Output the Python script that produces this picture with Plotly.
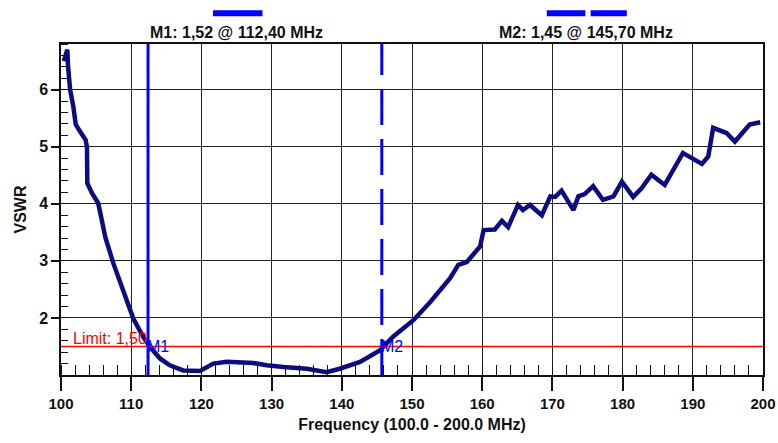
import plotly.graph_objects as go

# ---- data ----
freq_mhz = [100.4, 100.9, 101.0, 101.3, 101.75, 102.1, 102.7, 103.5, 103.7, 103.75,
            104.4, 105.3, 105.8, 106.3, 107.45, 108.9, 110.3, 111.7, 112.7, 114.1,
            115.5, 117.4, 119.8, 121.7, 123.6, 127.4, 129.3, 131.7, 135.0, 137.85,
            139.7, 142.6, 145.4, 147.3, 150.2, 152.6, 155.4, 156.6, 157.8, 159.7,
            160.2, 161.8, 162.8, 163.7, 165.1, 165.8, 166.8, 168.5, 169.7, 170.4,
            171.3, 173.0, 173.7, 174.6, 175.8, 177.2, 178.7, 179.9, 181.5, 182.7,
            184.1, 186.0, 188.6, 191.3, 192.2, 192.9, 194.8, 196.0, 197.2, 198.1, 199.6]
vswr = [6.5, 6.7, 6.41, 6.0, 5.71, 5.39, 5.27, 5.12, 5.0, 4.36,
        4.19, 4.01, 3.72, 3.42, 2.96, 2.45, 1.99, 1.67, 1.49, 1.29,
        1.17, 1.08, 1.07, 1.2, 1.23, 1.21, 1.17, 1.14, 1.11, 1.05,
        1.11, 1.23, 1.43, 1.67, 1.96, 2.28, 2.69, 2.93, 2.98, 3.25,
        3.54, 3.55, 3.70, 3.59, 3.98, 3.89, 3.98, 3.80, 4.13, 4.12,
        4.23, 3.89, 4.13, 4.17, 4.31, 4.07, 4.13, 4.39, 4.12, 4.27,
        4.51, 4.33, 4.89, 4.70, 4.83, 5.33, 5.24, 5.09, 5.27, 5.39, 5.43]

x_ticks = [100, 110, 120, 130, 140, 150, 160, 170, 180, 190, 200]
y_ticks = [2, 3, 4, 5, 6]

limit_value = 1.50
limit_label = "Limit: 1,50"
markers = ["M1", "M2"]
marker_freq = [112.4, 145.7]
marker_value = [1.52, 1.45]
marker_titles = ["M1: 1,52 @ 112,40 MHz", "M2: 1,45 @ 145,70 MHz"]

x_title = "Frequency (100.0 - 200.0 MHz)"
y_title = "VSWR"

# ---- figure ----
FONT = "Liberation Sans, Arial, sans-serif"
BLUE = "#0000ff"
NAVY = "#0c0c80"

fig = go.Figure()
fig.add_trace(go.Scatter(x=freq_mhz, y=vswr, mode="lines",
                         line=dict(color=NAVY, width=4.5), hoverinfo="skip",
                         showlegend=False))

shapes = []
shapes.append(dict(type="line", xref="x", yref="y", x0=100, x1=200,
                   y0=limit_value, y1=limit_value,
                   line=dict(color="#ff0000", width=1.5), layer="above"))
shapes.append(dict(type="line", xref="x", yref="paper", x0=marker_freq[0], x1=marker_freq[0],
                   y0=0, y1=1, line=dict(color=BLUE, width=3), layer="above"))
shapes.append(dict(type="line", xref="x", yref="paper", x0=marker_freq[1], x1=marker_freq[1],
                   y0=0, y1=1, line=dict(color=BLUE, width=3, dash="36px,14px"),
                   layer="above"))
shapes.append(dict(type="line", xref="paper", yref="paper", x0=0.2165, x1=0.287,
                   y0=1.093, y1=1.093, line=dict(color=BLUE, width=6)))
shapes.append(dict(type="line", xref="paper", yref="paper", x0=0.692, x1=0.747,
                   y0=1.093, y1=1.093, line=dict(color=BLUE, width=6)))
shapes.append(dict(type="line", xref="paper", yref="paper", x0=0.7545, x1=0.806,
                   y0=1.093, y1=1.093, line=dict(color=BLUE, width=6)))

annotations = []
annotations.append(dict(x=marker_freq[0], y=1.034, xref="x", yref="paper",
                        text="<b>" + marker_titles[0] + "</b>", showarrow=False,
                        xanchor="left", yanchor="middle",
                        font=dict(family=FONT, size=16, color="#111")))
annotations.append(dict(x=0.6212, y=1.034, xref="paper", yref="paper",
                        text="<b>" + marker_titles[1] + "</b>", showarrow=False,
                        xanchor="left", yanchor="middle",
                        font=dict(family=FONT, size=16, color="#111")))
for name, fx in zip(markers, marker_freq):
    annotations.append(dict(x=fx, y=limit_value, xref="x", yref="y", text=name,
                            showarrow=False, xanchor="left", yanchor="middle", xshift=-3,
                            font=dict(family=FONT, size=16, color=BLUE)))
annotations.append(dict(x=101.4, y=limit_value, xref="x", yref="y", text=limit_label,
                        showarrow=False, xanchor="left", yanchor="bottom", yshift=-3,
                        font=dict(family=FONT, size=16, color="#ff0000")))

fig.update_layout(
    width=778, height=443,
    margin=dict(l=61, r=15, t=44, b=68, autoexpand=False),
    paper_bgcolor="white", plot_bgcolor="white",
    shapes=shapes, annotations=annotations,
    showlegend=False,
    font=dict(family=FONT, color="#111"),
    xaxis=dict(range=[100, 200], tickvals=x_ticks,
               ticktext=["<b>%d</b>" % v for v in x_ticks], automargin=False,
               showgrid=True, gridcolor="#222", gridwidth=1,
               showline=True, linecolor="#111", linewidth=1.5, mirror=True,
               ticks="outside", ticklen=14, tickcolor="#111", tickwidth=1.5,
               tickfont=dict(family=FONT, size=15, color="#111"),
               minor=dict(dtick=2, tick0=100, ticks="inside", ticklen=10,
                          tickcolor="#111", tickwidth=1, showgrid=False),
               zeroline=False,
               title=dict(text="<b>" + x_title + "</b>", standoff=8,
                          font=dict(family=FONT, size=16, color="#111"))),
    yaxis=dict(range=[1, 6.8], tickvals=y_ticks,
               ticktext=["<b>%d</b>" % v for v in y_ticks], automargin=False,
               showgrid=True, gridcolor="#222", gridwidth=1,
               showline=True, linecolor="#111", linewidth=1.5, mirror=True,
               ticks="outside", ticklen=8, tickcolor="#111", tickwidth=1.5,
               tickfont=dict(family=FONT, size=16, color="#111"),
               minor=dict(dtick=0.2, tick0=1, ticks="inside", ticklen=7,
                          tickcolor="#111", tickwidth=1, showgrid=False),
               zeroline=False,
               title=dict(text="<b>" + y_title + "</b>", standoff=9,
                          font=dict(family=FONT, size=16, color="#111"))),
)

fig.write_html("out.html", config={"displayModeBar": False},
               post_script="document.body.style.margin='0px';document.body.style.padding='0px';")
